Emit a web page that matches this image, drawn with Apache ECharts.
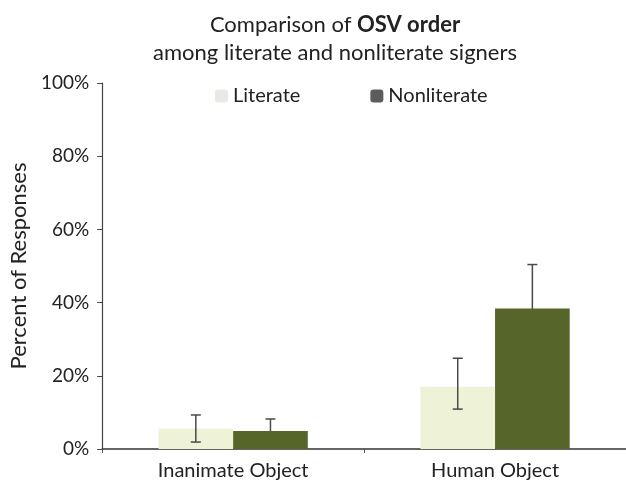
<!DOCTYPE html>
<html>
<head>
<meta charset="utf-8">
<script src="https://cdn.jsdelivr.net/npm/echarts@6/dist/echarts.min.js"></script>
<style>html,body{margin:0;padding:0;background:#fff}#c{width:626px;height:482px}</style>
</head>
<body>
<div id="c"></div>
<script>
var categories = ['Inanimate Object', 'Human Object'];
var literate = [5.6, 17];
var nonliterate = [4.9, 38.4];
var literateLow = [1.9, 10.9];
var literateHigh = [9.3, 24.8];
var nonliterateLow = [1.6, 26.4];
var nonliterateHigh = [8.2, 50.4];
var yTicks = [0, 20, 40, 60, 80, 100];

var FONT = 'Lato, "Open Sans", sans-serif';
var BAR_FRAC = 0.285;

function errData(low, high) {
  return categories.map(function (c, i) { return [i, low[i], high[i]]; });
}
function errRender(side) {
  return function (params, api) {
    var band = api.size([1, 0])[0];
    var off = side * band * BAR_FRAC / 2;
    var lo = api.coord([api.value(0), api.value(1)]);
    var hi = api.coord([api.value(0), api.value(2)]);
    var x = lo[0] + off;
    var cap = 5;
    var style = { stroke: '#4a4a4a', lineWidth: 1.5 };
    return {
      type: 'group',
      children: [
        { type: 'line', shape: { x1: x, y1: lo[1], x2: x, y2: hi[1] }, style: style },
        { type: 'line', shape: { x1: x - cap, y1: hi[1], x2: x + cap, y2: hi[1] }, style: style },
        { type: 'line', shape: { x1: x - cap, y1: lo[1], x2: x + cap, y2: lo[1] }, style: style }
      ]
    };
  };
}

var chart = echarts.init(document.getElementById('c'));
chart.setOption({
  backgroundColor: '#fff',
  animation: false,
  title: {
    text: 'Comparison of {b|OSV order}\namong literate and nonliterate signers',
    left: 330,
    textAlign: 'center',
    top: 6,
    textStyle: {
      fontFamily: FONT, fontSize: 22, fontWeight: 'normal', color: '#222', lineHeight: 28,
      rich: { b: { fontFamily: FONT, fontSize: 22, fontWeight: 'bold', color: '#222', lineHeight: 28 } }
    }
  },
  legend: {
    left: 210,
    top: 81,
    itemGap: 70,
    itemWidth: 13,
    itemHeight: 13,
    textStyle: { fontFamily: FONT, fontSize: 20, color: '#222' },
    data: [
      { name: 'Literate', itemStyle: { color: '#e8e8e4' } },
      { name: 'Nonliterate', itemStyle: { color: '#5c5c5c' } }
    ]
  },
  grid: { left: 95, right: -5, top: 83, bottom: 33, containLabel: false },
  xAxis: {
    type: 'category',
    data: categories,
    axisLine: { lineStyle: { color: '#333', width: 1.5 } },
    axisTick: { show: true, inside: false, length: 4, lineStyle: { color: '#555' } },
    axisLabel: { fontFamily: FONT, fontSize: 20, color: '#222', margin: 12 }
  },
  yAxis: {
    type: 'value',
    min: yTicks[0],
    max: yTicks[yTicks.length - 1],
    interval: 20,
    name: 'Percent of Responses',
    nameLocation: 'middle',
    nameGap: 66,
    nameTextStyle: { fontFamily: FONT, fontSize: 22, color: '#222' },
    axisLine: { show: true, lineStyle: { color: '#444', width: 1.2 } },
    axisTick: { show: true, length: 5, lineStyle: { color: '#444' } },
    splitLine: { show: false },
    axisLabel: { formatter: '{value}%', fontFamily: FONT, fontSize: 19, color: '#222', margin: 13 }
  },
  series: [
    {
      name: 'Literate', type: 'bar', data: literate, barWidth: (BAR_FRAC * 100) + '%', barGap: '0%',
      itemStyle: { color: '#eef2d6' }, z: 2
    },
    {
      name: 'Nonliterate', type: 'bar', data: nonliterate, barWidth: (BAR_FRAC * 100) + '%', barGap: '0%',
      itemStyle: { color: '#56652a' }, z: 2
    },
    { type: 'custom', name: 'litErr', data: errData(literateLow, literateHigh), renderItem: errRender(-1), z: 5 },
    { type: 'custom', name: 'nonErr', data: errData(nonliterateLow, nonliterateHigh), renderItem: errRender(1), z: 1 }
  ]
});
</script>
</body>
</html>
